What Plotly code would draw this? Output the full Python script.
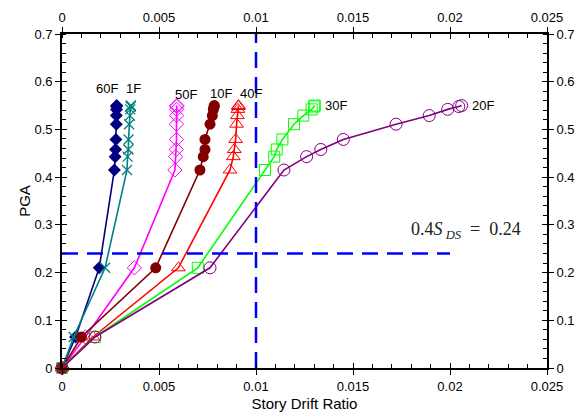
import plotly.graph_objects as go

# ---- data ----
PGA = [0, 0.065, 0.21, 0.415, 0.443, 0.458, 0.479, 0.511, 0.529, 0.542, 0.548, 0.55]

drift_60F = [0, 0.0007, 0.00192, 0.0027, 0.00274, 0.00276, 0.00278, 0.0028, 0.0028, 0.00281, 0.00281, 0.00282]
drift_1F = [0, 0.0006, 0.00222, 0.00335, 0.00338, 0.00342, 0.00343, 0.00346, 0.0035, 0.00352, 0.00354, 0.00355]
drift_50F = [0, 0.0012, 0.00373, 0.00582, 0.00586, 0.00589, 0.0059, 0.0059, 0.00591, 0.00591, 0.00592, 0.00592]
drift_10F = [0, 0.001, 0.00483, 0.00711, 0.00728, 0.00737, 0.00737, 0.00763, 0.00775, 0.0078, 0.00784, 0.00785]
drift_40F = [0, 0.0016, 0.006, 0.00866, 0.00883, 0.00888, 0.00895, 0.009, 0.00904, 0.00907, 0.00909, 0.0091]
drift_30F = [0, 0.0017, 0.007, 0.01046, 0.01094, 0.01107, 0.01136, 0.01196, 0.01244, 0.01287, 0.013, 0.01303]
drift_20F = [0, 0.0017, 0.00763, 0.01144, 0.01261, 0.01334, 0.0145, 0.01722, 0.01893, 0.01988, 0.02045, 0.0206]

series_names = ["60F", "1F", "50F", "10F", "40F", "30F", "20F"]
series_drifts = [drift_60F, drift_1F, drift_50F, drift_10F, drift_40F, drift_30F, drift_20F]

x_ticks = [0, 0.005, 0.01, 0.015, 0.02, 0.025]
x_ticklabels = ["0", "0.005", "0.01", "0.015", "0.02", "0.025"]
y_ticks = [0, 0.1, 0.2, 0.3, 0.4, 0.5, 0.6, 0.7]
y_ticklabels = ["0", "0.1", "0.2", "0.3", "0.4", "0.5", "0.6", "0.7"]

drift_limit = 0.01          # vertical dashed line
sds_value = 0.24            # 0.4 S_DS
sds_line_x = [0, 0.02]      # extent of horizontal dashed line
sds_label_pos = [0.0208, 0.289]

# ---- styles ----
styles = {
    "60F": dict(color="#000080", symbol="diamond", size=10, lw=0),
    "1F": dict(color="#008080", symbol="x-thin", size=10, lw=1.3),
    "50F": dict(color="#FF00FF", symbol="diamond-open", size=11, lw=1),
    "10F": dict(color="#800000", symbol="circle", size=11, lw=0),
    "40F": dict(color="#FF0000", symbol="triangle-up-open", size=12, lw=1),
    "30F": dict(color="#00FF00", symbol="square-open", size=11, lw=1),
    "20F": dict(color="#800080", symbol="circle-open", size=12, lw=1),
}
label_shift = {
    "60F": (-10, 17), "1F": (3, 17), "50F": (9, 11), "10F": (7, 12),
    "40F": (12, 12), "30F": (21, 0), "20F": (21, 0),
}

fig = go.Figure()

for name, xs in zip(series_names, series_drifts):
    s = styles[name]
    fig.add_trace(go.Scatter(
        x=xs, y=PGA, mode="lines+markers", name=name,
        line=dict(color=s["color"], width=1.6),
        marker=dict(symbol=s["symbol"], size=s["size"], color=s["color"],
                    line=dict(color=s["color"], width=s["lw"])),
        showlegend=False, cliponaxis=False,
    ))

# dashed reference lines
fig.add_trace(go.Scatter(x=[drift_limit, drift_limit], y=[y_ticks[0], y_ticks[-1]],
                         mode="lines", line=dict(color="#0000FF", width=2.5, dash="16px,9px"),
                         showlegend=False))
fig.add_trace(go.Scatter(x=sds_line_x, y=[sds_value, sds_value],
                         mode="lines", line=dict(color="#0000FF", width=2.5, dash="16px,9px"),
                         showlegend=False))

# dummy traces to activate overlay axes
for i in (2, 3, 4):
    fig.add_trace(go.Scatter(x=[None], y=[None], xaxis=f"x{i}", yaxis=f"y{i}",
                             showlegend=False, hoverinfo="skip"))

# series labels
for name, xs in zip(series_names, series_drifts):
    dx, dy = label_shift[name]
    fig.add_annotation(x=xs[-1], y=PGA[-1], text=name, showarrow=False,
                       xshift=dx, yshift=dy,
                       font=dict(family="Liberation Sans, Arial", size=13, color="black"))

fig.add_annotation(x=sds_label_pos[0], y=sds_label_pos[1],
                   text="0.4<i>S</i><sub> <i>DS</i></sub>  =  0.24", showarrow=False,
                   font=dict(family="Liberation Serif, Times New Roman", size=18, color="#222"))

xr = [x_ticks[0], x_ticks[-1]]
yr = [y_ticks[0], y_ticks[-1]]
tickfont = dict(family="Liberation Sans, Arial", size=13, color="black")
common_x = dict(range=xr, tickvals=x_ticks, ticktext=x_ticklabels, showgrid=False,
                zeroline=False, tickcolor="black", tickwidth=1.2, ticklen=5, tickfont=tickfont,
                automargin=False)
common_y = dict(range=yr, tickvals=y_ticks, ticktext=y_ticklabels, showgrid=False,
                zeroline=False, tickcolor="black", tickwidth=1.2, ticklen=5, tickfont=tickfont,
                automargin=False)
minor_x = dict(ticks="inside", ticklen=4, dtick=0.001, tick0=0, tickcolor="black", tickwidth=1)
minor_y = dict(ticks="inside", ticklen=4, dtick=0.02, tick0=0, tickcolor="black", tickwidth=1)

fig.update_layout(
    width=578, height=419,
    margin=dict(l=62, r=31, t=34, b=51),
    paper_bgcolor="white", plot_bgcolor="white",
    xaxis=dict(**common_x, side="bottom", ticks="outside", showline=True, linecolor="black",
               linewidth=1.8, minor=minor_x,
               title=dict(text="Story Drift Ratio", standoff=6,
                          font=dict(family="Liberation Sans, Arial", size=15, color="black"))),
    yaxis=dict(**common_y, side="left", ticks="outside", showline=True, linecolor="black",
               linewidth=1.8, minor=minor_y,
               title=dict(text="PGA", standoff=0,
                          font=dict(family="Liberation Sans, Arial", size=15, color="black"))),
    xaxis2=dict(**common_x, side="top", overlaying="x", anchor="y2", ticks="outside",
                showline=True, linecolor="black", linewidth=1.8, minor=minor_x),
    yaxis2=dict(**common_y, side="right", overlaying="y", anchor="x2", ticks="outside",
                showline=True, linecolor="black", linewidth=1.8, minor=minor_y),
    xaxis3=dict(**common_x, side="bottom", overlaying="x", anchor="y3", ticks="inside",
                showticklabels=False, showline=False),
    yaxis3=dict(**common_y, side="left", overlaying="y", anchor="x3", ticks="inside",
                showticklabels=False, showline=False),
    xaxis4=dict(**common_x, side="top", overlaying="x", anchor="y4", ticks="inside",
                showticklabels=False, showline=False),
    yaxis4=dict(**common_y, side="right", overlaying="y", anchor="x4", ticks="inside",
                showticklabels=False, showline=False),
)

fig.write_html("out.html", config={"displayModeBar": False},
               post_script="document.body.style.margin='0';document.body.style.padding='0';")
